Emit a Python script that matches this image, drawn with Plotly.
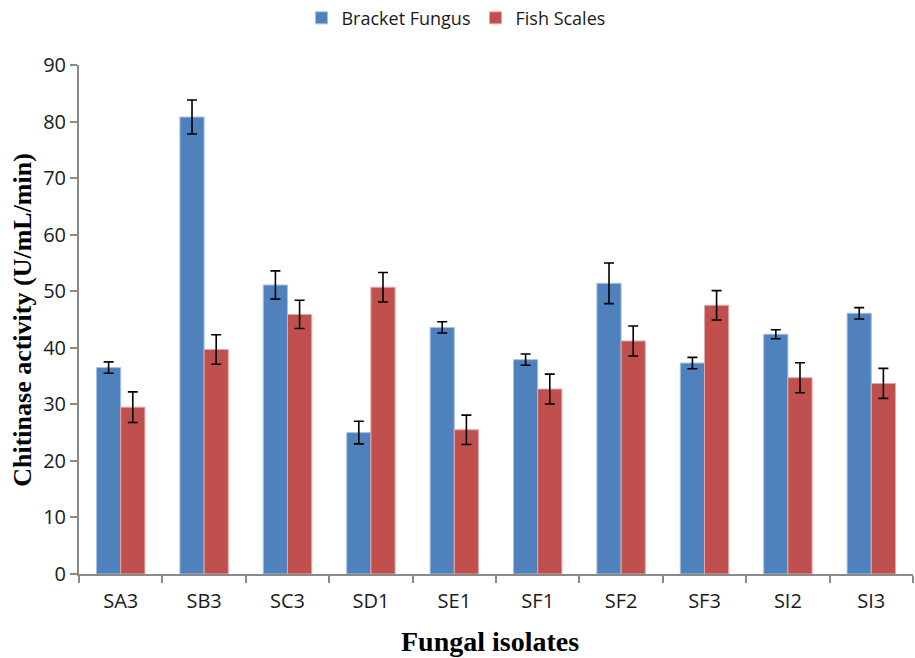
import plotly.graph_objects as go

categories = ["SA3", "SB3", "SC3", "SD1", "SE1", "SF1", "SF2", "SF3", "SI2", "SI3"]
bracket_fungus = [36.5, 80.8, 51.1, 25.0, 43.6, 37.9, 51.4, 37.3, 42.4, 46.1]
bracket_err = [1.0, 3.0, 2.5, 2.0, 1.0, 1.0, 3.6, 1.0, 0.8, 1.0]
fish_scales = [29.5, 39.7, 45.9, 50.7, 25.5, 32.7, 41.2, 47.5, 34.7, 33.7]
fish_err = [2.7, 2.6, 2.5, 2.6, 2.6, 2.65, 2.65, 2.6, 2.65, 2.65]

tick_font = dict(family="Open Sans, Noto Sans, sans-serif", size=20, color="#1a1a1a")
err_style = dict(type="data", visible=True, color="black", thickness=1.6, width=5)

fig = go.Figure()
fig.add_trace(go.Bar(
    name="Bracket Fungus", x=categories, y=bracket_fungus,
    marker=dict(color="#4F81BD", line=dict(color="#A7C0DE", width=1)),
    error_y=dict(array=bracket_err, **err_style),
))
fig.add_trace(go.Bar(
    name="Fish Scales", x=categories, y=fish_scales,
    marker=dict(color="#C0504D", line=dict(color="#E0A8A6", width=1)),
    error_y=dict(array=fish_err, **err_style),
))

fig.update_layout(
    width=915, height=658,
    margin=dict(l=79, r=2, t=65, b=84, autoexpand=False),
    paper_bgcolor="white", plot_bgcolor="white",
    barmode="group", bargap=0.42, bargroupgap=0,
    showlegend=True,
    legend=dict(orientation="h", x=0.452, xanchor="center", y=1.092, yanchor="middle",
                font=dict(family="Open Sans, Noto Sans, sans-serif", size=18, color="#1a1a1a"),
                traceorder="normal", itemwidth=30),
    font=tick_font,
)
fig.update_xaxes(
    showline=True, linecolor="#8a8a8a", linewidth=2,
    ticks="outside", tickson="boundaries", ticklen=7, tickcolor="#8a8a8a", tickwidth=2,
    tickfont=tick_font, ticklabelstandoff=8, showgrid=False, automargin=False,
)
fig.update_yaxes(
    range=[0, 90], dtick=10,
    showline=True, linecolor="#8a8a8a", linewidth=2,
    ticks="outside", ticklen=7, tickcolor="#8a8a8a", tickwidth=2,
    tickfont=tick_font, showgrid=False, zeroline=False, automargin=False,
)
fig.add_annotation(
    text="Chitinase activity (U/mL/min)", xref="paper", yref="paper",
    x=-0.068, y=0.5, xanchor="center", yanchor="middle", textangle=-90, showarrow=False,
    font=dict(family="Liberation Serif, Times New Roman, serif", size=26, color="black", weight="bold"),
)
fig.add_annotation(
    text="Fungal isolates", xref="paper", yref="paper",
    x=0.493, y=-0.133, xanchor="center", yanchor="middle", showarrow=False,
    font=dict(family="Liberation Serif, Times New Roman, serif", size=28, color="black", weight="bold"),
)

fig.write_html("out.html", config={"displayModeBar": False},
               post_script="document.body.style.margin='0';document.body.style.overflow='hidden';")
